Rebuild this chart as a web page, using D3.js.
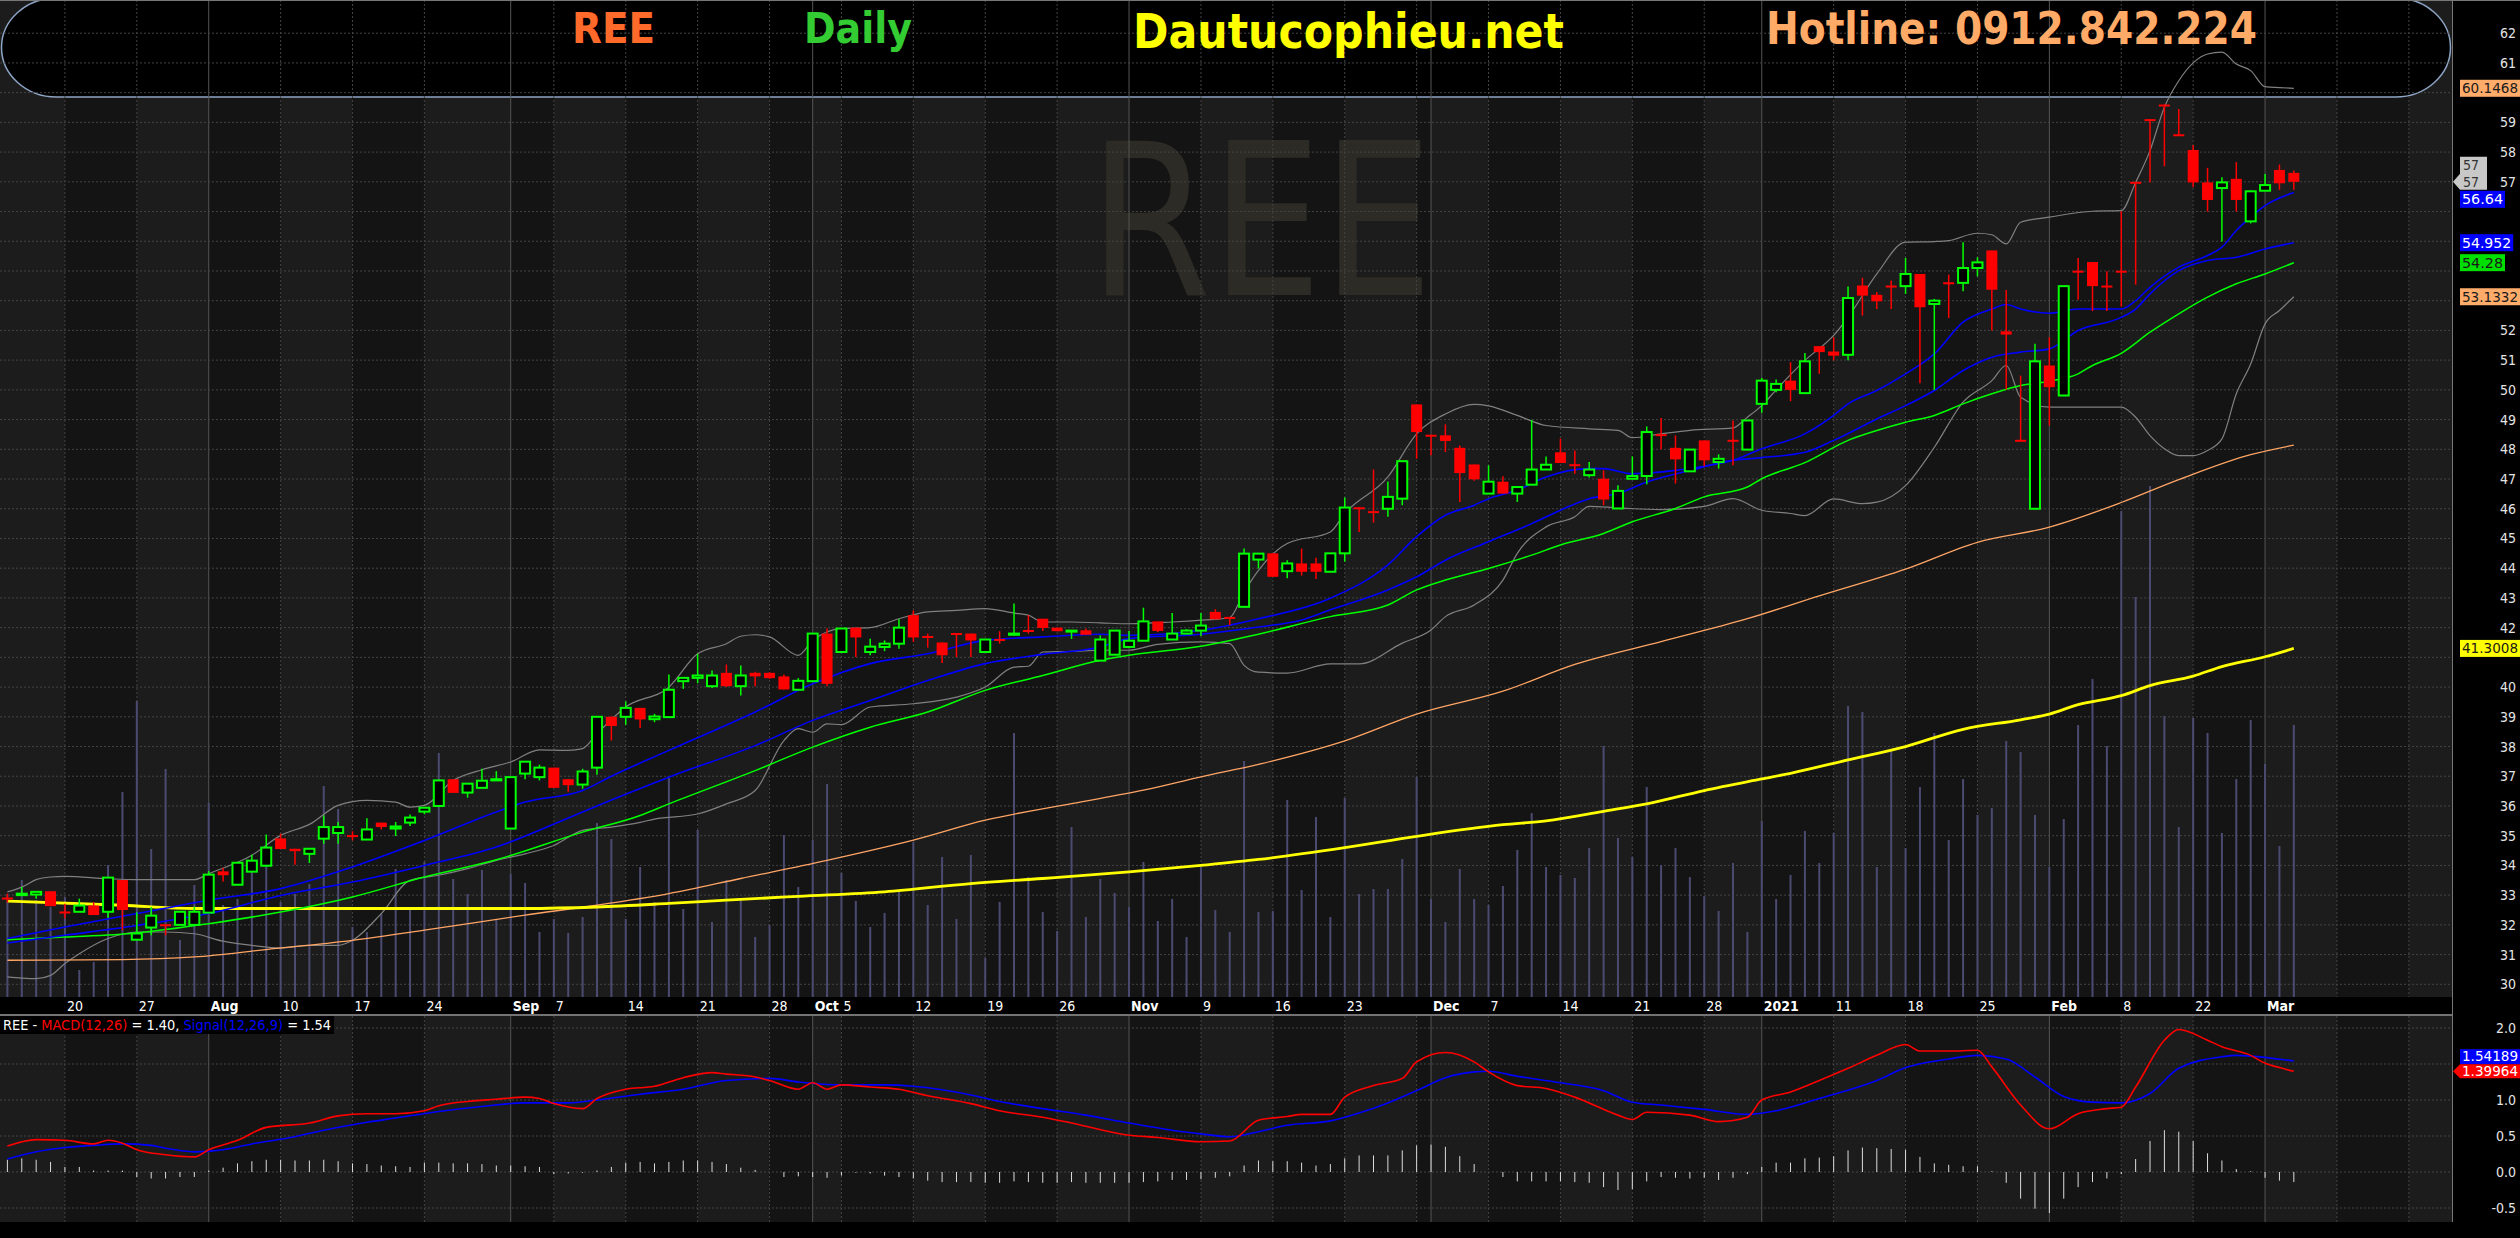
<!DOCTYPE html>
<html>
<head>
<meta charset="utf-8">
<title>REE Daily</title>
<script src="https://cdn.jsdelivr.net/npm/d3@7"></script>
<style>
  html, body { margin: 0; padding: 0; background: #000; }
  svg { display: block; }
</style>
</head>
<body>
<div id="chart"></div>
<script>
// ---- data ----
const dates = [
  "2020-07-14","2020-07-15","2020-07-16","2020-07-17",
  "2020-07-20","2020-07-21","2020-07-22","2020-07-23","2020-07-24",
  "2020-07-27","2020-07-28","2020-07-29","2020-07-30","2020-07-31",
  "2020-08-03","2020-08-04","2020-08-05","2020-08-06","2020-08-07",
  "2020-08-10","2020-08-11","2020-08-12","2020-08-13","2020-08-14",
  "2020-08-17","2020-08-18","2020-08-19","2020-08-20","2020-08-21",
  "2020-08-24","2020-08-25","2020-08-26","2020-08-27","2020-08-28",
  "2020-08-31","2020-09-01","2020-09-03","2020-09-04",
  "2020-09-07","2020-09-08","2020-09-09","2020-09-10","2020-09-11",
  "2020-09-14","2020-09-15","2020-09-16","2020-09-17","2020-09-18",
  "2020-09-21","2020-09-22","2020-09-23","2020-09-24","2020-09-25",
  "2020-09-28","2020-09-29","2020-09-30","2020-10-01","2020-10-02",
  "2020-10-05","2020-10-06","2020-10-07","2020-10-08","2020-10-09",
  "2020-10-12","2020-10-13","2020-10-14","2020-10-15","2020-10-16",
  "2020-10-19","2020-10-20","2020-10-21","2020-10-22","2020-10-23",
  "2020-10-26","2020-10-27","2020-10-28","2020-10-29","2020-10-30",
  "2020-11-02","2020-11-03","2020-11-04","2020-11-05","2020-11-06",
  "2020-11-09","2020-11-10","2020-11-11","2020-11-12","2020-11-13",
  "2020-11-16","2020-11-17","2020-11-18","2020-11-19","2020-11-20",
  "2020-11-23","2020-11-24","2020-11-25","2020-11-26","2020-11-27",
  "2020-11-30","2020-12-01","2020-12-02","2020-12-03","2020-12-04",
  "2020-12-07","2020-12-08","2020-12-09","2020-12-10","2020-12-11",
  "2020-12-14","2020-12-15","2020-12-16","2020-12-17","2020-12-18",
  "2020-12-21","2020-12-22","2020-12-23","2020-12-24","2020-12-25",
  "2020-12-28","2020-12-29","2020-12-30","2020-12-31",
  "2021-01-04","2021-01-05","2021-01-06","2021-01-07","2021-01-08",
  "2021-01-11","2021-01-12","2021-01-13","2021-01-14","2021-01-15",
  "2021-01-18","2021-01-19","2021-01-20","2021-01-21","2021-01-22",
  "2021-01-25","2021-01-26","2021-01-27","2021-01-28","2021-01-29",
  "2021-02-01","2021-02-02","2021-02-03","2021-02-04","2021-02-05",
  "2021-02-08","2021-02-09","2021-02-17","2021-02-18","2021-02-19",
  "2021-02-22","2021-02-23","2021-02-24","2021-02-25","2021-02-26",
  "2021-03-01","2021-03-02","2021-03-03"
];

const open = [
  32.92,33.0,33.02,33.13, 32.45,32.44,32.65,32.44,33.51, 31.5,31.91,32.02,32.0,32.0,
  32.41,33.8,33.35,33.79,33.99, 34.91,34.56,34.39,34.9,35.09, 35.02,34.87,35.44,35.24,35.44,
  35.81,36.0,36.9,36.45,36.61, 36.86,35.24,37.09,36.97, 37.29,36.9,36.72,37.29,39.0,
  39.0,39.3,38.92,38.99,40.2, 40.31,40.03,40.48,40.03,40.48, 40.48,40.36,39.91,40.2,41.8,
  41.18,42.0,41.18,41.35,41.46, 42.42,41.72,41.5,41.82,41.8, 41.18,41.62,41.76,41.92,42.3,
  42.0,41.87,41.91,40.89,41.09, 41.35,41.56,42.21,41.6,41.8, 41.9,42.53,42.36,42.7,44.29,
  44.5,43.9,44.16,44.16,43.88, 44.5,46.05,45.92,46.0,46.34, 49.51,48.49,48.47,48.05,47.49,
  46.51,46.91,46.51,46.81,47.32, 47.9,47.5,47.13,47.01,46.01, 47.01,47.1,48.51,48.05,47.26,
  48.3,47.57,48.32,47.99, 49.53,50.0,50.31,49.89,51.47, 51.29,51.18,53.51,53.2,53.51,
  53.49,53.9,52.89,53.62,53.6, 54.1,54.69,51.97,48.32,46.0, 50.82,49.81,54.01,54.3,53.51,
  54.01,57.0,59.11,59.6,58.6, 58.07,56.98,56.79,57.1,55.67, 56.7,57.4,57.3
];
const high = [
  33.05,33.27,33.11,33.13, 32.71,32.88,32.77,33.59,33.51, 32.42,32.6,32.02,32.44,32.62,
  33.81,33.92,34.09,34.36,35.04, 35.07,34.56,34.56,35.68,35.46, 35.15,35.59,35.44,35.46,35.71,
  35.94,36.86,36.9,36.75,37.25, 37.17,36.97,37.49,37.39, 37.29,36.9,37.25,39.0,39.02,
  39.52,39.3,39.1,40.42,40.31, 41.12,40.56,40.76,40.73,40.52, 40.5,40.42,40.3,41.8,41.97,
  41.97,42.0,41.63,41.57,42.28, 42.58,41.8,41.5,41.82,41.8, 41.6,41.88,42.81,42.42,42.3,
  42.0,41.92,41.97,41.74,41.9, 41.89,42.67,42.21,42.49,41.95, 42.49,42.62,42.36,44.66,44.5,
  44.5,44.27,44.66,44.35,44.5, 46.38,46.05,47.32,46.92,47.6, 49.51,48.49,48.84,48.13,47.49,
  47.46,47.09,46.73,48.99,47.76, 48.36,47.96,47.57,47.29,46.79, 47.76,48.77,49.05,48.47,47.99,
  48.3,47.83,48.97,48.97, 50.4,50.35,50.93,51.24,51.47, 51.77,53.48,53.77,53.29,53.68,
  54.44,53.9,53.06,53.88,54.97, 54.46,54.69,53.36,50.48,51.55, 51.77,53.49,54.44,54.3,53.99,
  56.01,57.0,59.11,59.6,59.45, 58.24,57.47,57.15,57.66,56.72, 57.26,57.58,57.38
];
const low = [
  32.75,33.0,32.88,32.63, 32.21,32.44,32.33,32.24,31.82, 31.5,31.65,31.65,32.0,32.0,
  32.41,33.46,33.35,33.79,33.99, 34.55,34.02,34.08,34.73,34.73, 34.84,34.87,35.21,34.99,35.33,
  35.72,36.0,36.44,36.28,36.61, 36.86,35.24,36.9,36.86, 36.61,36.48,36.58,37.05,38.2,
  38.73,38.62,38.82,38.97,39.94, 40.13,39.97,40.0,39.72,40.03, 40.28,39.92,39.91,40.2,40.03,
  41.18,41.01,41.07,41.21,41.29, 41.52,41.33,40.81,41.01,41.01, 41.18,41.46,41.74,41.8,41.89,
  41.88,41.62,41.76,40.89,41.09, 41.35,41.56,41.85,41.6,41.78, 41.72,42.28,42.08,42.7,43.99,
  43.71,43.66,43.75,43.64,43.88, 44.22,45.22,45.53,45.73,46.12, 47.68,47.8,47.91,46.23,46.94,
  46.51,46.51,46.23,46.81,47.32, 47.54,47.18,47.05,46.12,46.01, 47.01,46.82,48.0,46.85,47.26,
  47.43,47.35,47.46,47.99, 49.23,49.92,49.62,49.89,50.54, 50.99,51.0,52.5,52.72,52.72,
  53.23,50.22,50.0,52.42,53.32, 53.82,52.0,50.0,48.3,46.0, 48.8,49.81,53.03,52.65,52.65,
  52.8,53.54,56.98,57.52,58.55, 56.82,56.0,54.99,56.0,55.6, 56.7,56.73,56.73
];
const close = [
  32.9,33.05,33.11,32.63, 32.43,32.65,32.33,33.59,32.5, 31.71,32.31,32.0,32.44,32.44,
  33.69,33.67,34.09,34.16,34.6, 34.55,34.48,34.56,35.29,35.29, 35.0,35.21,35.29,35.31,35.61,
  35.94,36.86,36.44,36.75,36.85, 36.9,36.97,37.49,37.29, 36.61,36.7,37.16,39.0,38.69,
  39.3,38.91,39.01,39.91,40.31, 40.39,40.39,40.03,40.39,40.36, 40.3,39.92,40.21,41.8,40.11,
  41.97,41.67,41.36,41.46,42.0, 41.67,41.68,41.07,41.8,41.57, 41.6,41.6,41.8,41.88,41.99,
  41.88,41.9,41.76,41.6,41.9, 41.56,42.21,41.89,41.8,41.9, 42.07,42.28,42.33,44.49,44.49,
  43.71,44.16,43.88,43.88,44.5, 46.04,46.02,45.9,46.4,47.6, 48.58,48.47,48.28,47.2,46.99,
  46.91,46.51,46.73,47.32,47.48, 47.54,47.47,47.32,46.31,46.6, 47.1,48.58,48.49,47.66,47.99,
  47.63,47.68,48.3,48.97, 50.31,50.2,50.0,50.96,51.27, 51.15,53.09,53.17,52.98,53.49,
  53.9,52.78,53.0,53.6,54.1, 54.29,53.37,51.86,48.3,50.96, 50.09,53.49,53.99,53.49,53.49,
  53.99,56.98,59.09,59.58,58.58, 56.98,56.39,56.98,56.39,56.68, 56.89,56.95,57.0
];
// volume, thousand shares
const volume = [
  2060,2340,1940,1800,2000,540,700,2640,4100,5920,2960,4560,1140,2240,3880,1840,1960,2640,3040,1900,
  2060,2260,4220,3760,1400,1300,1660,2560,1740,2700,4880,2360,2060,2540,1540,2460,2280,1300,1560,1280,
  1600,3480,3160,1560,2600,1900,4420,1760,3340,1500,2340,1960,1200,1440,3240,2200,3140,4260,2480,1920,
  1400,1680,2100,3100,1840,2800,1560,2840,780,1900,5280,2400,1700,1320,3400,1600,2360,2080,1800,2700,
  1520,1960,1200,2600,1740,1300,4720,1700,1720,3940,2140,3600,1600,3980,2060,2160,2160,2760,4400,1960,
  1500,2560,1960,1840,2220,2940,3680,2600,2440,2380,2980,5020,3180,2800,4200,2640,2980,2400,2020,1720,
  2680,1300,3520,1960,2440,3320,2680,3280,5820,5700,2600,4940,2980,4200,5280,3140,4360,3640,3780,5120,
  4900,3640,2600,3560,5440,6360,5020,9720,8000,10220,5620,3400,5580,5280,3280,4360,5540,4660,3020,5440
];

// indicator lines, [day index, value]
const bbUpper = [[0,33.11],[1,33.27],[2,33.52],[3,33.61],[4,33.63],[7,33.55],[9,33.52],[13,33.52],[14,33.72],[17,34.34],[19,35.01],[21,35.38],[23,36.02],[25,36.19],[27,36.13],[28,35.96],[29,36.02],[31,36.86],[33,37.22],[35,37.48],[37,37.89],[39,37.87],[40,37.93],[41,38.43],[43,39.33],[46,40.0],[48,41.12],[50,41.46],[51,41.71],[52,41.76],[53,41.69],[55,41.07],[56,41.57],[58,41.97],[60,42.0],[62,42.3],[64,42.53],[66,42.58],[68,42.64],[70,42.49],[71,42.42],[72,42.19],[74,42.19],[76,42.16],[78,42.13],[81,42.19],[83,42.25],[84,42.28],[85,42.34],[86,43.2],[87,43.93],[89,44.83],[92,45.22],[93,45.84],[96,47.07],[98,48.52],[100,49.19],[102,49.51],[103,49.46],[105,49.14],[107,48.8],[110,48.69],[112,48.64],[113,48.39],[115,48.52],[117,48.64],[120,48.72],[121,49.08],[122,49.47],[123,50.0],[125,50.99],[127,51.83],[128,52.44],[130,53.9],[132,54.97],[134,54.99],[135,55.02],[137,55.27],[138,55.22],[139,54.91],[140,55.64],[142,55.81],[145,56.01],[147,56.03],[148,56.98],[149,58.05],[150,59.51],[151,60.4],[152,61.0],[153,61.3],[154,61.36],[155,60.96],[156,60.74],[157,60.2],[158,60.17],[159,60.1468]];
const bbLower = [[0,30.25],[1,30.21],[2,30.19],[3,30.3],[4,30.7],[5,31.03],[7,31.54],[9,31.76],[11,31.76],[13,31.7],[15,31.45],[17,31.31],[19,31.22],[21,31.31],[23,31.31],[24,31.48],[26,32.38],[28,33.5],[30,33.67],[32,33.89],[34,34.17],[36,34.39],[38,34.67],[40,35.18],[42,35.29],[44,35.45],[45,35.56],[48,35.73],[50,36.07],[52,36.52],[54,38.2],[55,38.6],[56,38.48],[57,38.76],[58,38.74],[60,39.33],[63,39.44],[66,39.66],[68,40.0],[70,40.67],[71,40.7],[72,41.18],[74,41.2],[76,41.24],[78,41.24],[80,41.44],[83,41.52],[85,41.46],[86,40.73],[87,40.5],[89,40.47],[92,40.78],[94,40.78],[97,41.48],[99,41.92],[100,42.37],[102,42.76],[104,43.6],[105,44.5],[107,45.39],[109,45.73],[110,46.08],[112,46.03],[115,45.97],[118,46.08],[120,46.34],[122,45.95],[124,45.84],[125,45.77],[127,46.33],[129,46.17],[130,46.22],[132,46.78],[134,48.07],[136,49.59],[138,50.31],[139,50.82],[140,49.75],[142,49.42],[147,49.42],[148,49.08],[149,48.46],[150,48.02],[151,47.79],[152,47.79],[153,47.96],[154,48.35],[155,49.87],[156,50.87],[157,52.22],[158,52.67],[159,53.1332]];
const sma20 = [[0,31.54],[4,31.93],[9,32.38],[14,32.83],[19,33.22],[24,33.95],[29,34.84],[34,35.8],[36,36.13],[40,36.52],[42,37.0],[46,37.87],[52,39.16],[56,40.11],[60,40.79],[64,41.12],[68,41.57],[72,41.69],[76,41.78],[78,41.74],[83,41.91],[87,42.3],[92,42.99],[96,44.11],[98,45.06],[100,45.78],[102,46.12],[103,46.34],[105,46.62],[107,47.07],[110,47.35],[111,47.35],[113,47.18],[116,47.29],[118,47.43],[120,47.63],[122,48.02],[125,48.52],[127,49.14],[128,49.53],[130,49.98],[132,50.54],[134,51.21],[136,52.28],[138,52.72],[139,52.87],[140,52.72],[142,52.58],[144,52.72],[147,52.72],[148,53.0],[149,53.45],[151,54.13],[153,54.52],[154,54.8],[155,55.36],[156,55.81],[157,56.2],[159,56.64]];
const emaBlue = [[0,31.39],[4,31.65],[9,31.98],[14,32.38],[19,32.99],[24,33.44],[29,34.0],[34,34.62],[40,35.8],[42,36.2],[46,36.97],[52,38.03],[56,38.88],[60,39.55],[64,40.22],[68,40.79],[72,41.1],[76,41.35],[78,41.63],[83,41.78],[87,42.02],[90,42.26],[92,42.6],[96,43.27],[98,43.71],[100,44.27],[103,44.89],[106,45.5],[108,45.95],[110,46.34],[112,46.51],[114,46.9],[117,47.29],[120,47.63],[122,47.72],[125,47.9],[127,48.3],[130,49.02],[132,49.47],[134,49.98],[136,50.65],[138,51.1],[140,51.27],[142,51.38],[144,52.0],[147,52.44],[148,52.72],[149,53.23],[151,54.01],[153,54.35],[155,54.46],[157,54.74],[159,54.952]];
const maGreen = [[0,31.5],[4,31.59],[9,31.73],[14,32.04],[19,32.43],[24,32.94],[29,33.61],[34,34.19],[40,35.12],[44,35.68],[46,36.07],[52,37.19],[56,37.98],[60,38.65],[64,39.16],[68,39.89],[72,40.39],[76,40.9],[78,41.07],[83,41.37],[87,41.78],[92,42.37],[96,42.76],[98,43.27],[100,43.6],[103,43.99],[106,44.44],[108,44.78],[111,45.17],[113,45.56],[116,46.01],[118,46.4],[121,46.73],[122,47.01],[125,47.55],[128,48.3],[130,48.63],[132,48.91],[134,49.14],[136,49.53],[138,49.87],[140,50.15],[142,50.29],[144,50.54],[145,50.82],[147,51.23],[149,51.94],[151,52.56],[153,53.12],[155,53.57],[157,53.9],[159,54.28]];
const maOrange = [[0,30.81],[8,30.83],[13,30.92],[18,31.17],[24,31.48],[29,31.82],[36,32.33],[41,32.66],[46,33.05],[51,33.56],[57,34.17],[63,34.85],[68,35.52],[74,36.08],[79,36.53],[83,36.98],[87,37.4],[93,38.19],[98,39.09],[104,39.86],[109,40.76],[115,41.53],[121,42.3],[126,43.07],[132,43.97],[137,44.87],[142,45.38],[147,46.21],[151,46.98],[156,47.82],[159,48.14]];
const maYellow = [[0,32.8],[8,32.66],[13,32.55],[36,32.55],[41,32.6],[46,32.72],[50,32.83],[55,32.96],[61,33.11],[67,33.39],[72,33.56],[78,33.78],[83,34.0],[87,34.2],[93,34.6],[98,34.98],[104,35.37],[107,35.5],[111,35.82],[114,36.07],[118,36.52],[122,36.91],[124,37.1],[128,37.55],[132,38.0],[136,38.58],[140,38.9],[142,39.09],[144,39.41],[147,39.71],[149,40.05],[152,40.37],[154,40.69],[157,41.02],[159,41.3008]];

const macdLine = [[0,0.36],[2,0.45],[4,0.44],[6,0.39],[7,0.44],[8,0.40],[9,0.31],[11,0.24],[13,0.21],[14,0.31],[16,0.44],[18,0.62],[21,0.68],[23,0.78],[25,0.81],[27,0.81],[29,0.85],[30,0.92],[32,0.98],[34,1.01],[36,1.04],[37,1.02],[38,0.95],[40,0.88],[41,1.02],[43,1.15],[45,1.19],[47,1.31],[49,1.38],[50,1.36],[52,1.32],[53,1.27],[55,1.15],[56,1.24],[57,1.15],[58,1.21],[60,1.18],[62,1.15],[64,1.06],[67,0.95],[69,0.85],[72,0.76],[74,0.68],[78,0.51],[80,0.48],[83,0.42],[85,0.43],[87,0.72],[89,0.77],[90,0.8],[92,0.8],[93,1.04],[95,1.2],[97,1.3],[98,1.53],[100,1.66],[102,1.53],[103,1.39],[105,1.2],[107,1.16],[109,1.04],[112,0.79],[113,0.73],[114,0.83],[117,0.79],[119,0.7],[121,0.76],[122,1.0],[124,1.11],[126,1.27],[128,1.44],[130,1.62],[132,1.77],[133,1.68],[135,1.68],[137,1.69],[138,1.46],[140,0.93],[142,0.6],[144,0.81],[146,0.88],[147,0.9],[148,1.18],[150,1.83],[151,1.98],[153,1.83],[154,1.74],[156,1.62],[157,1.51],[158,1.45],[159,1.39964]];
const signalLine = [[0,0.18],[2,0.28],[4,0.34],[6,0.37],[8,0.39],[10,0.37],[11,0.33],[13,0.28],[15,0.31],[17,0.39],[20,0.49],[22,0.58],[25,0.69],[27,0.75],[30,0.84],[33,0.91],[36,0.96],[39,0.96],[41,1.0],[44,1.08],[47,1.15],[50,1.27],[53,1.3],[55,1.25],[58,1.21],[61,1.21],[63,1.19],[67,1.07],[69,0.98],[72,0.88],[75,0.79],[78,0.68],[81,0.58],[83,0.53],[85,0.49],[87,0.56],[89,0.65],[92,0.71],[94,0.82],[96,0.96],[98,1.13],[100,1.31],[102,1.39],[103,1.4],[105,1.33],[108,1.24],[111,1.13],[113,0.97],[115,0.93],[118,0.87],[121,0.8],[123,0.85],[126,1.02],[130,1.27],[132,1.45],[135,1.57],[137,1.62],[139,1.57],[141,1.32],[143,1.05],[145,0.97],[147,0.96],[149,1.09],[151,1.44],[154,1.6],[155,1.62],[156,1.61],[159,1.54189]];
const macdHist = [
  0.17,0.19,0.17,0.14,0.07,0.07,0.02,0.02,0.02,-0.07,-0.09,-0.09,-0.07,-0.07,0.02,0.06,0.12,0.15,0.17,0.17,
  0.16,0.16,0.17,0.15,0.12,0.11,0.09,0.08,0.07,0.13,0.13,0.12,0.12,0.11,0.09,0.09,0.08,0.07,-0.03,-0.02,
  -0.01,0.02,0.07,0.13,0.14,0.12,0.14,0.16,0.16,0.14,0.11,0.06,0.03,0.0,-0.07,-0.06,-0.07,-0.08,-0.05,-0.01,
  -0.02,-0.05,-0.07,-0.09,-0.12,-0.14,-0.14,-0.14,-0.15,-0.15,-0.13,-0.14,-0.15,-0.15,-0.14,-0.15,-0.15,-0.15,-0.15,-0.14,
  -0.13,-0.11,-0.11,-0.10,-0.08,-0.06,0.09,0.16,0.15,0.15,0.13,0.09,0.11,0.19,0.23,0.23,0.23,0.30,0.37,0.38,
  0.35,0.22,0.11,0.0,-0.07,-0.13,-0.13,-0.13,-0.13,-0.14,-0.15,-0.21,-0.25,-0.24,-0.13,-0.07,-0.08,-0.09,-0.08,-0.11,
  -0.08,-0.03,0.07,0.13,0.13,0.19,0.20,0.22,0.30,0.34,0.33,0.32,0.31,0.21,0.12,0.10,0.08,0.08,0.01,-0.15,
  -0.37,-0.51,-0.57,-0.37,-0.21,-0.14,-0.09,-0.03,0.18,0.43,0.58,0.56,0.43,0.26,0.16,0.04,0.01,-0.08,-0.12,-0.14
];

const tickDates = ["2020-07-20","2020-07-27","2020-08-03","2020-08-10","2020-08-17","2020-08-24","2020-09-01","2020-09-07","2020-09-14","2020-09-21","2020-09-28","2020-10-01","2020-10-05","2020-10-12","2020-10-19","2020-10-26","2020-11-02","2020-11-09","2020-11-16","2020-11-23","2020-11-30","2020-12-01","2020-12-07","2020-12-14","2020-12-21","2020-12-28","2021-01-04","2021-01-11","2021-01-18","2021-01-25","2021-02-01","2021-02-08","2021-02-22","2021-03-01"];
const tickLabels = ["20","27","Aug","10","17","24","Sep","7","14","21","28","Oct","5","12","19","26","Nov","9","16","23","","Dec","7","14","21","28","2021","11","18","25","Feb","8","22","Mar"];
const futureTicks = [162, 167]; // empty weeks right of the last bar

const priceTicks = d3.range(30, 63);
const macdTicks = [2.0, 1.5, 1.0, 0.5, 0.0, -0.5];

const tagValues = [60.1468, 56.64, 54.952, 54.28, 53.1332, 41.3008];
const tagFills = ["#ffac6b", "#0000ff", "#0000ff", "#00e000", "#ffac6b", "#ffff00"];
const tagInk = ["#1a1a1a", "#ffffff", "#ffffff", "#1a1a1a", "#1a1a1a", "#1a1a1a"];
const lastClose = 57;
const macdTagValues = [1.54189, 1.39964];

// ---- layout ----
const W = 2520, H = 1238;
const plotRight = 2452;
const priceBottom = 997;
const macdTop = 1016, macdBottom = 1222;
const narrow = "'Liberation Sans Narrow', 'DejaVu Sans Condensed', 'Arial Narrow', sans-serif";

const svg = d3.select("#chart").append("svg")
  .attr("width", W).attr("height", H)
  .style("background", "#000");

const x = d3.scaleLinear().domain([0, dates.length - 1]).range([7.4, 7.4 + 14.38 * (dates.length - 1)]);
const y = d3.scaleLinear().domain([30, 62]).range([984.3, 33.2]);
const yVol = d3.scaleLinear().domain([0, 20000]).range([priceBottom, priceBottom - 1000]);
const yM = d3.scaleLinear().domain([-0.5, 2.0]).range([1208, 1028]);

const tickIdx = tickDates.map(d => dates.indexOf(d));
const gridIdx = tickIdx.concat(futureTicks);
const isMonth = tickLabels.map(t => t !== "" && !/^\d{1,2}$/.test(t));

// alternating week bands
const edges = [0, ...gridIdx.map(i => x(i)), plotRight];
const bands = d3.pairs(edges);
[[0, priceBottom], [macdTop, macdBottom]].forEach(([t, b]) => {
  svg.append("g").selectAll("rect").data(bands).join("rect")
    .attr("x", d => d[0]).attr("width", d => d[1] - d[0])
    .attr("y", t).attr("height", b - t)
    .attr("fill", (d, k) => k % 2 ? "#141414" : "#1c1c1c");
});

// header box (sits behind the grid)
svg.append("rect")
  .attr("x", 1.5).attr("y", -2).attr("width", 2449).attr("height", 99)
  .attr("rx", 55).attr("ry", 50)
  .attr("fill", "#000").attr("stroke", "#8da4c4").attr("stroke-width", 1.5);

// watermark
svg.append("text")
  .attr("x", 1089).attr("y", 295)
  .attr("textLength", 344).attr("lengthAdjust", "spacingAndGlyphs")
  .style("font-family", narrow).style("font-size", "212px")
  .attr("fill", "#2c2b25")
  .text("REE");

// grid
function vGrid(top, bottom) {
  svg.append("g").selectAll("line").data(gridIdx).join("line")
    .attr("x1", i => x(i)).attr("x2", i => x(i))
    .attr("y1", top).attr("y2", bottom)
    .attr("stroke", (i, k) => isMonth[k] ? "#555" : "#444")
    .attr("stroke-dasharray", (i, k) => isMonth[k] ? null : "2,2");
}
vGrid(0, priceBottom);
vGrid(macdTop, macdBottom);

svg.append("g").selectAll("line").data(priceTicks).join("line")
  .attr("x1", 0).attr("x2", plotRight)
  .attr("y1", d => y(d)).attr("y2", d => y(d))
  .attr("stroke", "#444").attr("stroke-dasharray", "2,2");
svg.append("g").selectAll("line").data(macdTicks).join("line")
  .attr("x1", 0).attr("x2", plotRight)
  .attr("y1", d => yM(d)).attr("y2", d => yM(d))
  .attr("stroke", "#444").attr("stroke-dasharray", "2,2");

// volume
svg.append("g").selectAll("line").data(volume).join("line")
  .attr("x1", (v, i) => x(i)).attr("x2", (v, i) => x(i))
  .attr("y1", yVol(0)).attr("y2", v => yVol(v))
  .attr("stroke", "#4b4b72").attr("stroke-width", 2);

// indicator lines
const line = d3.line().x(d => x(d[0])).y(d => y(d[1])).curve(d3.curveMonotoneX);
const series = [
  [bbUpper, "#808080", 1.2],
  [bbLower, "#808080", 1.2],
  [maOrange, "#ffa565", 1.3],
  [maYellow, "#ffff00", 2.8],
  [maGreen, "#00ff00", 1.5],
  [emaBlue, "#0000ff", 1.6],
  [sma20, "#0000ff", 1.6]
];
series.forEach(([data, color, w]) => {
  svg.append("path").datum(data)
    .attr("d", line).attr("fill", "none")
    .attr("stroke", color).attr("stroke-width", w);
});

// candles
const bars = dates.map((d, i) => ({ i, o: open[i], h: high[i], l: low[i], c: close[i], up: close[i] >= open[i] }));
const cg = svg.append("g");
cg.selectAll("line").data(bars).join("line")
  .attr("x1", d => x(d.i)).attr("x2", d => x(d.i))
  .attr("y1", d => y(d.h)).attr("y2", d => y(d.l))
  .attr("stroke", d => d.up ? "#00ff00" : "#ff0000").attr("stroke-width", 1.5);
cg.selectAll("rect").data(bars).join("rect")
  .attr("x", d => x(d.i) - (d.up ? 5 : 5.5))
  .attr("width", d => d.up ? 10 : 11)
  .attr("y", d => y(Math.max(d.o, d.c)))
  .attr("height", d => Math.max(Math.abs(y(d.o) - y(d.c)), d.up ? 1 : 2))
  .attr("fill", d => d.up ? "#000" : "#ff0000")
  .attr("stroke", d => d.up ? "#00ff00" : "none")
  .attr("stroke-width", 2);

// x axis strip
svg.append("rect").attr("x", 0).attr("y", priceBottom).attr("width", plotRight).attr("height", macdTop - priceBottom).attr("fill", "#000");
svg.append("line").attr("x1", 0).attr("x2", plotRight).attr("y1", macdTop - 1).attr("y2", macdTop - 1).attr("stroke", "#9a9a9a").attr("stroke-width", 1.5);
svg.append("g").selectAll("text").data(tickLabels).join("text")
  .attr("x", (t, k) => x(tickIdx[k]) + 2).attr("y", 1011)
  .style("font-family", narrow).style("font-size", "14px")
  .style("font-weight", (t, k) => isMonth[k] ? "bold" : "normal")
  .attr("fill", "#fff")
  .text(t => t);

// MACD panel
svg.append("g").selectAll("line").data(macdHist).join("line")
  .attr("x1", (v, i) => x(i)).attr("x2", (v, i) => x(i))
  .attr("y1", yM(0)).attr("y2", v => yM(v))
  .attr("stroke", "#dcdcdc").attr("stroke-width", 1);
const mline = d3.line().x(d => x(d[0])).y(d => yM(d[1])).curve(d3.curveMonotoneX);
svg.append("path").datum(signalLine).attr("d", mline).attr("fill", "none").attr("stroke", "#0000ff").attr("stroke-width", 1.6);
svg.append("path").datum(macdLine).attr("d", mline).attr("fill", "none").attr("stroke", "#ff0000").attr("stroke-width", 1.6);

svg.append("rect").attr("x", 0).attr("y", macdTop).attr("width", 334).attr("height", 18).attr("fill", "#000");
const title = svg.append("text").attr("x", 3).attr("y", 1030)
  .attr("textLength", 328).attr("lengthAdjust", "spacingAndGlyphs")
  .style("font-family", narrow).style("font-size", "14px");
[["REE - ", "#fff"], ["MACD(12,26)", "#ff0000"], [" = 1.40, ", "#fff"], ["Signal(12,26,9)", "#0000ff"], [" = 1.54", "#fff"]]
  .forEach(([t, c]) => title.append("tspan").attr("fill", c).text(t));

svg.append("rect").attr("x", 0).attr("y", macdBottom).attr("width", W).attr("height", H - macdBottom).attr("fill", "#000");

// right axis
svg.append("rect").attr("x", plotRight).attr("y", 0).attr("width", W - plotRight).attr("height", H).attr("fill", "#000");
svg.append("line").attr("x1", plotRight + 0.5).attr("x2", plotRight + 0.5).attr("y1", 0).attr("y2", macdBottom).attr("stroke", "#777");
svg.append("line").attr("x1", 0).attr("x2", W).attr("y1", 0.5).attr("y2", 0.5).attr("stroke", "#777");

// lay out the value tags first so covered tick labels can be left out
const yc = y(lastClose);
const tagBoxes = [];
let prevBottom = yc + 8;
tagValues.map((v, k) => ({ v, k, cy: y(v) }))
  .sort((a, b) => a.cy - b.cy)
  .forEach(t => {
    let top = t.cy - 8.5;
    if (t.cy > yc - 25 && top < prevBottom + 1) top = prevBottom + 1;
    const label = String(t.v);
    const w = Math.min(60, label.length * 8.2 + 4);
    tagBoxes.push({ top, bottom: top + 17, w, label, k: t.k });
    if (t.cy > yc - 25) prevBottom = top + 17;
  });
tagBoxes.push({ top: yc - 25, bottom: yc + 8, w: 27 });

const redY = yM(macdTagValues[1]);
const blueTop = Math.min(yM(macdTagValues[0]) - 7, redY - 7 - 15);
const macdBoxes = [{ top: blueTop, bottom: blueTop + 15, w: 60 }, { top: redY - 7, bottom: redY + 7, w: 60 }];

const free = (ty, boxes) => !boxes.some(b => 2460 + b.w > 2497 && ty - 6 < b.bottom && ty + 5 > b.top);

svg.append("g").selectAll("text").data(priceTicks.filter(d => free(y(d), tagBoxes))).join("text")
  .attr("x", 2516).attr("y", d => y(d) + 5)
  .attr("text-anchor", "end")
  .style("font-family", narrow).style("font-size", "14px")
  .attr("fill", "#e4e4e4")
  .text(d => d);
svg.append("g").selectAll("text").data(macdTicks.filter(d => free(yM(d), macdBoxes))).join("text")
  .attr("x", 2516).attr("y", d => yM(d) + 5)
  .attr("text-anchor", "end")
  .style("font-family", narrow).style("font-size", "14px")
  .attr("fill", "#e4e4e4")
  .text(d => d.toFixed(1));

// last-close tag (two lines with a pointer)
svg.append("path")
  .attr("d", `M${plotRight + 1},${yc} L2460,${yc - 8} L2460,${yc - 25} L2487,${yc - 25} L2487,${yc + 8} L2460,${yc + 8} Z`)
  .attr("fill", "#c8c8c8");
[yc - 12, yc + 5].forEach(ty => {
  svg.append("text").attr("x", 2463).attr("y", ty)
    .style("font-family", narrow).style("font-size", "14px")
    .attr("fill", "#333").text(lastClose);
});

tagBoxes.filter(b => b.label).forEach(b => {
  svg.append("rect").attr("x", 2460).attr("y", b.top).attr("width", b.w).attr("height", 17).attr("fill", tagFills[b.k]);
  svg.append("text").attr("x", 2462).attr("y", b.top + 13.5)
    .attr("textLength", b.w - 4).attr("lengthAdjust", "spacingAndGlyphs")
    .style("font-family", narrow).style("font-size", "14px")
    .attr("fill", tagInk[b.k]).text(b.label);
});

// MACD tags: red sits on its value, blue stacks above
svg.append("rect").attr("x", 2460).attr("y", blueTop).attr("width", 60).attr("height", 15).attr("fill", "#0000ff");
svg.append("text").attr("x", 2462).attr("y", blueTop + 12).attr("textLength", 56).attr("lengthAdjust", "spacingAndGlyphs")
  .style("font-family", narrow).style("font-size", "14px").attr("fill", "#fff").text(macdTagValues[0]);
svg.append("path")
  .attr("d", `M${plotRight + 1},${redY} L2460,${redY - 7} L2520,${redY - 7} L2520,${redY + 7} L2460,${redY + 7} Z`)
  .attr("fill", "#ff0000");
svg.append("text").attr("x", 2462).attr("y", redY + 5).attr("textLength", 56).attr("lengthAdjust", "spacingAndGlyphs")
  .style("font-family", narrow).style("font-size", "14px").attr("fill", "#fff").text(macdTagValues[1]);

// header titles
const head = [
  ["REE", 572, 43, 83, 43, "#ff6a2a"],
  ["Daily", 804, 43, 108, 43, "#33cc33"],
  ["Dautucophieu.net", 1133, 48, 431, 48, "#ffff00"],
  ["Hotline: 0912.842.224", 1766, 44, 491, 45, "#ffaa66"]
];
head.forEach(([t, hx, hy, len, size, color]) => {
  svg.append("text").attr("x", hx).attr("y", hy)
    .attr("textLength", len).attr("lengthAdjust", "spacingAndGlyphs")
    .style("font-family", "'DejaVu Sans Condensed', 'DejaVu Sans', sans-serif")
    .style("font-stretch", "condensed")
    .style("font-weight", "bold").style("font-size", size + "px")
    .attr("fill", color).text(t);
});
</script>
</body>
</html>
